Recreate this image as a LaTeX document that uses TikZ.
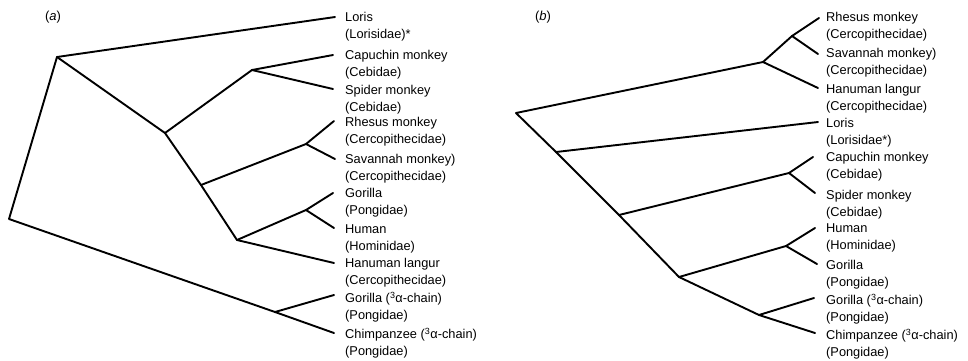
\documentclass[tikz,border=0pt]{standalone}
\usepackage{fontspec}
\setmainfont{Liberation Sans}
\begin{document}
\begin{tikzpicture}[x=1pt,y=-1pt,
  br/.style={line width=1.9pt,line cap=round,line join=round},
  lab/.style={anchor=north west,align=left,inner sep=0pt,font=\fontsize{12.8}{16.5}\selectfont},
  ttl/.style={inner sep=0pt,font=\fontsize{13}{15}\selectfont}]
\useasboundingbox (0,0) rectangle (968,360);
\newcommand{\fl}{\rule{0pt}{10pt}}
\newcommand{\tra}{(\textsuperscript{3}α-chain)}
% ---------- panel (a) ----------
\node[ttl] (ta) at (53,17) {(\textit{a})};
\coordinate (ra) at (9,219);
\coordinate (a1) at (57,57);
\coordinate (a2) at (165,133);
\coordinate (a3) at (252,70);
\coordinate (a4) at (201,185);
\coordinate (a5) at (306,144);
\coordinate (a6) at (237,240);
\coordinate (a7) at (306,210);
\coordinate (a8) at (275,312);
\coordinate (la1) at (335,17);
\coordinate (la2) at (333,55);
\coordinate (la3) at (333,89);
\coordinate (la4) at (334,121);
\coordinate (la5) at (335,159);
\coordinate (la6) at (333,193);
\coordinate (la7) at (334,228);
\coordinate (la8) at (334,263);
\coordinate (la9) at (334,295);
\coordinate (la10) at (334,333);
\draw[br] (la1) -- (a1) -- (ra) -- (a8) -- (la10);
\draw[br] (a1) -- (a2) -- (a4) -- (a6) -- (la8);
\draw[br] (a2) -- (a3) -- (la2);
\draw[br] (a3) -- (la3);
\draw[br] (a4) -- (a5) -- (la4);
\draw[br] (a5) -- (la5);
\draw[br] (a6) -- (a7) -- (la6);
\draw[br] (a7) -- (la7);
\draw[br] (a8) -- (la9);
\node[lab] (na1) at (345,11.7) {\fl Loris\\(Lorisidae)*};
\node[lab] (na2) at (345,49.7) {\fl Capuchin monkey\\(Cebidae)};
\node[lab] (na3) at (345,84.7) {\fl Spider monkey\\(Cebidae)};
\node[lab] (na4) at (345,116.7) {\fl Rhesus monkey\\(Cercopithecidae)};
\node[lab] (na5) at (345,153.7) {\fl Savannah monkey)\\(Cercopithecidae)};
\node[lab] (na6) at (345,187.7) {\fl Gorilla\\(Pongidae)};
\node[lab] (na7) at (345,223.7) {\fl Human\\(Hominidae)};
\node[lab] (na8) at (345,257.7) {\fl Hanuman langur\\(Cercopithecidae)};
\node[lab] (na9) at (345,291.7) {\fl Gorilla \tra\\(Pongidae)};
\node[lab] (na10) at (345,327.7) {\fl Chimpanzee \tra\\(Pongidae)};
% ---------- panel (b) ----------
\node[ttl] (tb) at (543,17) {(\textit{b})};
\coordinate (rb) at (516,113);
\coordinate (b1) at (763,62);
\coordinate (b2) at (792,36);
\coordinate (b3) at (556,152);
\coordinate (b4) at (619,215);
\coordinate (b5) at (789,173);
\coordinate (b6) at (679,277);
\coordinate (b7) at (786,246);
\coordinate (b8) at (759,315);
\coordinate (lb1) at (819,18);
\coordinate (lb2) at (818,54);
\coordinate (lb3) at (818,88);
\coordinate (lb4) at (818,122);
\coordinate (lb5) at (813,157);
\coordinate (lb6) at (815,193);
\coordinate (lb7) at (815,228);
\coordinate (lb8) at (817,264);
\coordinate (lb9) at (814,298);
\coordinate (lb10) at (815,333);
\draw[br] (lb3) -- (b1) -- (rb) -- (b3) -- (b4) -- (b6) -- (b8) -- (lb10);
\draw[br] (b1) -- (b2) -- (lb1);
\draw[br] (b2) -- (lb2);
\draw[br] (b3) -- (lb4);
\draw[br] (b4) -- (b5) -- (lb5);
\draw[br] (b5) -- (lb6);
\draw[br] (b6) -- (b7) -- (lb7);
\draw[br] (b7) -- (lb8);
\draw[br] (b8) -- (lb9);
\node[lab] (nb1) at (826,11.7) {\fl Rhesus monkey\\(Cercopithecidae)};
\node[lab] (nb2) at (826,47.7) {\fl Savannah monkey)\\(Cercopithecidae)};
\node[lab] (nb3) at (826,83.7) {\fl Hanuman langur\\(Cercopithecidae)};
\node[lab] (nb4) at (826,117.7) {\fl Loris\\(Lorisidae*)};
\node[lab] (nb5) at (826,151.7) {\fl Capuchin monkey\\(Cebidae)};
\node[lab] (nb6) at (826,189.7) {\fl Spider monkey\\(Cebidae)};
\node[lab] (nb7) at (826,222.7) {\fl Human\\(Hominidae)};
\node[lab] (nb8) at (826,259.7) {\fl Gorilla\\(Pongidae)};
\node[lab] (nb9) at (826,293.7) {\fl Gorilla \tra\\(Pongidae)};
\node[lab] (nb10) at (826,328.7) {\fl Chimpanzee \tra\\(Pongidae)};
\end{tikzpicture}
\end{document}
